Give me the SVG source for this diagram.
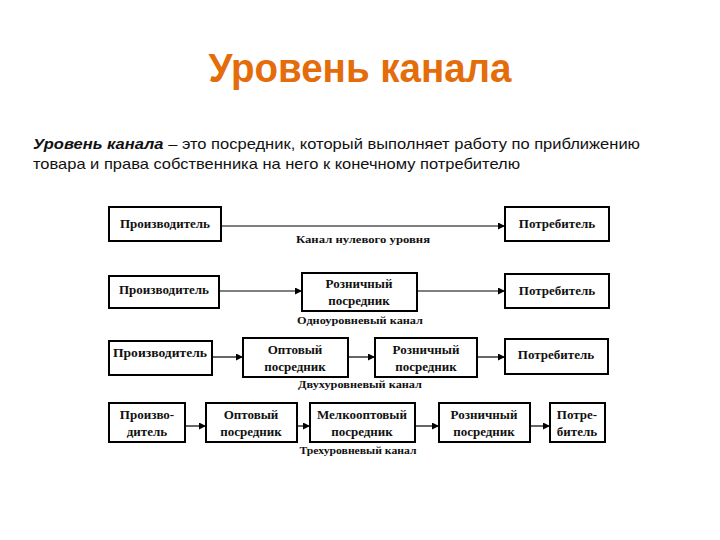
<svg xmlns="http://www.w3.org/2000/svg" width="720" height="540" viewBox="0 0 720 540">
<style>
.box{fill:#fff;stroke:#000;stroke-width:2}
.bt{font-family:"Liberation Serif","Times New Roman",serif;font-weight:bold;font-size:13px;fill:#111;text-anchor:middle}
.cap{font-family:"Liberation Serif","Times New Roman",serif;font-weight:bold;font-size:11px;fill:#111;text-anchor:middle}
.con{stroke:#000;stroke-width:1.2;fill:none;marker-end:url(#ah)}
.body{font-family:"Liberation Sans",Arial,sans-serif;font-size:15px;fill:#111}
</style>
<defs>
<marker id="ah" viewBox="0 0 10 10" refX="10" refY="5" markerWidth="7" markerHeight="7" markerUnits="userSpaceOnUse" orient="auto"><path d="M0,0 L10,5 L0,10 z" fill="#000"/></marker>
</defs>
<rect width="720" height="540" fill="#fff"/>
<text x="360" y="82" font-family="Liberation Sans,Arial,sans-serif" font-weight="bold" font-size="40" fill="#E46C0A" text-anchor="middle" textLength="303" lengthAdjust="spacingAndGlyphs">Уровень канала</text>
<text class="body" x="33" y="149" textLength="607" lengthAdjust="spacingAndGlyphs"><tspan font-weight="bold" font-style="italic">Уровень канала</tspan> – это посредник, который выполняет работу по приближению</text>
<text class="body" x="33" y="169" textLength="487" lengthAdjust="spacingAndGlyphs">товара и права собственника на него к конечному потребителю</text>

<g id="connectors">
<line class="con" x1="221" y1="226" x2="505" y2="226"/>
<line class="con" x1="219" y1="291" x2="302" y2="291"/>
<line class="con" x1="417" y1="291" x2="505" y2="291"/>
<line class="con" x1="212" y1="357" x2="243" y2="357"/>
<line class="con" x1="348" y1="357" x2="375" y2="357"/>
<line class="con" x1="477" y1="357" x2="505" y2="357"/>
<line class="con" x1="185" y1="426" x2="206" y2="426"/>
<line class="con" x1="297" y1="426" x2="310" y2="426"/>
<line class="con" x1="415" y1="426" x2="439" y2="426"/>
<line class="con" x1="530" y1="426" x2="550" y2="426"/>
</g>

<g id="r1-prod"><rect class="box" x="109" y="207" width="112" height="34"/><text class="bt" x="165" y="228">Производитель</text></g>
<g id="r1-cons"><rect class="box" x="505" y="207" width="104" height="34"/><text class="bt" x="557" y="228">Потребитель</text></g>
<text class="cap" x="363" y="243" textLength="134" lengthAdjust="spacingAndGlyphs">Канал нулевого уровня</text>

<g id="r2-prod"><rect class="box" x="109" y="276" width="110" height="32"/><text class="bt" x="164" y="294">Производитель</text></g>
<g id="r2-ret"><rect class="box" x="302" y="273" width="115" height="38"/><text class="bt" x="359" y="288">Розничный</text><text class="bt" x="359" y="305">посредник</text></g>
<g id="r2-cons"><rect class="box" x="505" y="274" width="104" height="34"/><text class="bt" x="557" y="295">Потребитель</text></g>
<text class="cap" x="360" y="324" textLength="126" lengthAdjust="spacingAndGlyphs">Одноуровневый канал</text>

<g id="r3-prod"><rect class="box" x="109" y="341" width="103" height="34"/><text class="bt" x="160" y="357" textLength="94" lengthAdjust="spacingAndGlyphs">Производитель</text></g>
<g id="r3-whole"><rect class="box" x="243" y="338" width="105" height="39"/><text class="bt" x="295" y="354">Оптовый</text><text class="bt" x="295" y="371">посредник</text></g>
<g id="r3-ret"><rect class="box" x="375" y="338" width="102" height="39"/><text class="bt" x="426" y="354">Розничный</text><text class="bt" x="426" y="371">посредник</text></g>
<g id="r3-cons"><rect class="box" x="505" y="339" width="103" height="35"/><text class="bt" x="556" y="359">Потребитель</text></g>
<text class="cap" x="360" y="388" textLength="124" lengthAdjust="spacingAndGlyphs">Двухуровневый канал</text>

<g id="r4-prod"><rect class="box" x="109" y="403" width="76" height="39"/><text class="bt" x="147" y="419">Произво-</text><text class="bt" x="147" y="436">дитель</text></g>
<g id="r4-whole"><rect class="box" x="206" y="403" width="91" height="39"/><text class="bt" x="251" y="419">Оптовый</text><text class="bt" x="251" y="436">посредник</text></g>
<g id="r4-small"><rect class="box" x="310" y="403" width="105" height="39"/><text class="bt" x="362" y="419">Мелкооптовый</text><text class="bt" x="362" y="436">посредник</text></g>
<g id="r4-ret"><rect class="box" x="439" y="403" width="91" height="39"/><text class="bt" x="484" y="419">Розничный</text><text class="bt" x="484" y="436">посредник</text></g>
<g id="r4-cons"><rect class="box" x="550" y="403" width="55" height="39"/><text class="bt" x="577" y="419">Потре-</text><text class="bt" x="577" y="436">битель</text></g>
<text class="cap" x="358" y="454" textLength="117" lengthAdjust="spacingAndGlyphs">Трехуровневый канал</text>
</svg>
